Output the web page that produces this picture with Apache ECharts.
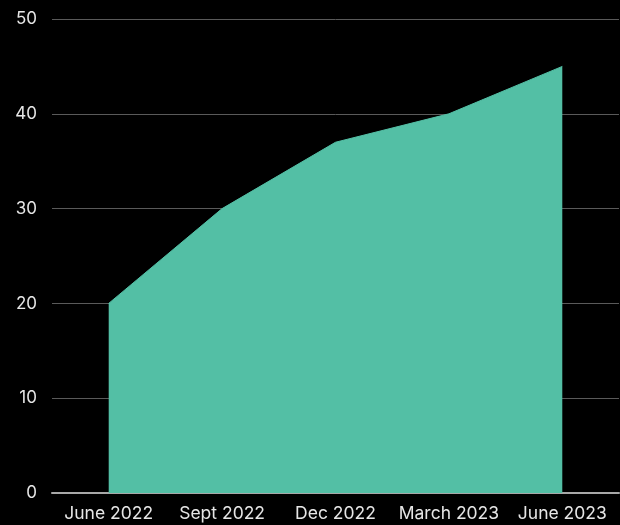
<!DOCTYPE html>
<html>
<head>
<meta charset="utf-8">
<script src="https://cdn.jsdelivr.net/npm/echarts@6/dist/echarts.min.js"></script>
<style>
  html, body { margin: 0; padding: 0; background: #000; }
  #chart { width: 620px; height: 525px; }
</style>
</head>
<body>
<div id="chart"></div>
<script>
var quarters = ['June 2022', 'Sept 2022', 'Dec 2022', 'March 2023', 'June 2023'];
var values = [20, 30, 37, 40, 45];

var chart = echarts.init(document.getElementById('chart'));
var font = 'Inter, "Open Sans", sans-serif';

chart.setOption({
  backgroundColor: '#000000',
  animation: false,
  grid: { left: 52, right: 1, top: 19, bottom: 32 },
  xAxis: {
    type: 'category',
    data: quarters,
    boundaryGap: true,
    axisLine: { lineStyle: { color: '#a8a8a8', width: 2 } },
    axisTick: { show: false },
    axisLabel: { color: '#e6e6e6', fontSize: 17.5, fontFamily: font, margin: 12, interval: 0 }
  },
  yAxis: {
    type: 'value',
    min: 0,
    max: 50,
    interval: 10,
    axisLine: { show: false },
    axisTick: { show: false },
    axisLabel: { color: '#e6e6e6', fontSize: 17, fontFamily: font, margin: 15 },
    splitLine: { lineStyle: { color: '#5a5a5a', width: 1 } }
  },
  series: [{
    type: 'line',
    data: values,
    symbol: 'none',
    lineStyle: { color: '#53bfa5', width: 1 },
    areaStyle: { color: '#53bfa5', opacity: 1 }
  }]
});
</script>
</body>
</html>
